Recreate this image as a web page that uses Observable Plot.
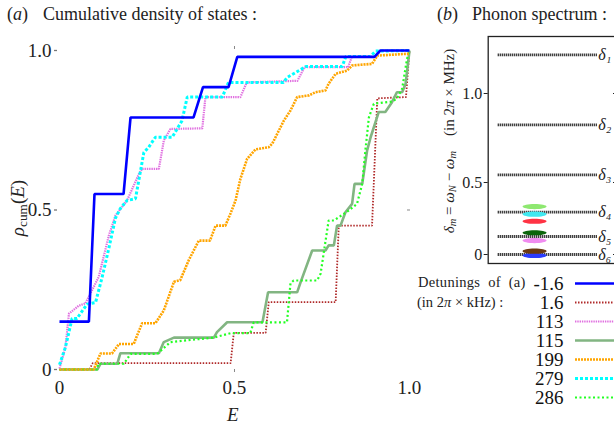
<!DOCTYPE html>
<html><head><meta charset="utf-8">
<script src="https://cdn.jsdelivr.net/npm/d3@7"></script>
<script src="https://cdn.jsdelivr.net/npm/@observablehq/plot@0.6"></script>
<style>
html,body{margin:0;padding:0;background:#fff;overflow:hidden}
#root{position:relative;width:614px;height:425px;overflow:hidden;font-family:"Liberation Serif",serif;color:#222;background:#fff}
.abs{position:absolute;white-space:nowrap;line-height:1}
.rot{transform:translate(-50%,-50%) rotate(-90deg)}
sub{font-size:70%;vertical-align:-0.25em;line-height:0}
svg{position:absolute;overflow:visible}
</style></head><body><div id="root"></div>
<script>
// ---------- data ----------
const detunings = ["-1.6", "1.6", "113", "115", "199", "279", "286"];
// cumulative density of states, [E, rho_cum] for each detuning
const cdos_m1_6 = [[0,0.15],[0.084,0.15],[0.10,0.55],[0.183,0.55],[0.203,0.79],[0.383,0.79],[0.41,0.885],[0.483,0.885],[0.508,0.98],[0.90,0.98],[0.917,1.0],[1.0,1.0]];
const cdos_1_6 = [[0,0],[0.085,0],[0.095,0.02],[0.489,0.02],[0.498,0.115],[0.589,0.115],[0.598,0.211],[0.789,0.211],[0.798,0.451],[0.893,0.451],[0.908,0.85],[0.99,0.854],[1.0,1.0]];
const cdos_113 = [[0,0.003],[0.017,0.07],[0.027,0.175],[0.055,0.2],[0.074,0.207],[0.112,0.29],[0.141,0.42],[0.16,0.483],[0.193,0.53],[0.227,0.613],[0.236,0.629],[0.284,0.629],[0.298,0.718],[0.317,0.754],[0.408,0.756],[0.417,0.854],[0.517,0.854],[0.535,0.9],[0.68,0.905],[0.70,0.948],[0.825,0.948],[0.835,0.98],[0.9,0.98],[0.92,1.0],[1,1]];
const cdos_115 = [[0,0],[0.108,0],[0.117,0.018],[0.165,0.018],[0.174,0.051],[0.284,0.051],[0.298,0.086],[0.327,0.1],[0.441,0.1],[0.45,0.117],[0.479,0.148],[0.58,0.148],[0.596,0.242],[0.679,0.242],[0.689,0.274],[0.722,0.373],[0.76,0.373],[0.769,0.389],[0.784,0.389],[0.793,0.451],[0.803,0.451],[0.817,0.493],[0.836,0.519],[0.843,0.582],[0.865,0.582],[0.879,0.687],[0.889,0.728],[0.912,0.807],[0.931,0.807],[0.95,0.838],[0.964,0.869],[0.979,0.869],[0.989,0.896],[1.0,1.0]];
const cdos_199 = [[0,0],[0.098,0],[0.117,0.05],[0.15,0.05],[0.17,0.08],[0.212,0.08],[0.236,0.145],[0.274,0.145],[0.298,0.185],[0.327,0.275],[0.345,0.28],[0.369,0.342],[0.398,0.404],[0.43,0.404],[0.446,0.451],[0.474,0.451],[0.489,0.49],[0.503,0.53],[0.517,0.598],[0.536,0.66],[0.56,0.69],[0.598,0.697],[0.608,0.708],[0.641,0.78],[0.66,0.812],[0.679,0.854],[0.712,0.859],[0.731,0.869],[0.76,0.875],[0.769,0.896],[0.789,0.927],[0.822,0.937],[0.836,0.953],[0.893,0.958],[0.908,0.984],[1,0.99]];
const cdos_279 = [[0,0.015],[0.017,0.07],[0.036,0.16],[0.05,0.16],[0.079,0.205],[0.103,0.21],[0.122,0.29],[0.141,0.38],[0.16,0.475],[0.174,0.505],[0.193,0.53],[0.217,0.535],[0.241,0.68],[0.255,0.697],[0.274,0.728],[0.322,0.728],[0.35,0.78],[0.365,0.854],[0.465,0.854],[0.483,0.9],[0.64,0.9],[0.65,0.915],[0.704,0.95],[0.808,0.95],[0.818,0.981],[0.888,0.981],[0.903,0.998],[1,1]];
const cdos_286 = [[0,0],[0.108,0],[0.11,0.018],[0.184,0.018],[0.203,0.049],[0.279,0.049],[0.317,0.086],[0.44,0.1],[0.489,0.114],[0.545,0.114],[0.555,0.148],[0.65,0.148],[0.66,0.27],[0.669,0.279],[0.736,0.279],[0.746,0.3],[0.769,0.467],[0.784,0.467],[0.826,0.498],[0.85,0.519],[0.865,0.582],[0.874,0.687],[0.884,0.79],[0.898,0.833],[0.95,0.84],[0.964,0.849],[0.979,0.88],[0.993,0.974],[1,1]];
const cdosTicks = [0, 0.5, 1];
// phonon spectrum (in 2π × MHz)
const phononLevels = [1.217, 0.824, 0.543, 0.294, 0.125, 0];
const phononNames = ["δ₁", "δ₂", "δ₃", "δ₄", "δ₅", "δ₆"];
const phononTicks = [0, 0.5, 1];
// marker positions of the detunings of (a) on the spectrum axis
const markerLevels = [-0.007, 0.023, 0.097, 0.151, 0.231, 0.28, 0.333];

// ---------- styles ----------
const lineBase = {strokeLinecap: "butt", strokeLinejoin: "miter"};
const seriesStyle = {
  "-1.6": {stroke: "#0000ff", strokeWidth: 2.6},
  "1.6": {stroke: "#b02a2a", strokeWidth: 1.8, strokeDasharray: "1.5,1.5"},
  "113": {stroke: "#e070e0", strokeWidth: 2.2, strokeDasharray: "1.4,0.9"},
  "115": {stroke: "#82b582", strokeWidth: 2.6},
  "199": {stroke: "#ffa500", strokeWidth: 2.6, strokeDasharray: "2,1"},
  "279": {stroke: "#00ffff", strokeWidth: 3, strokeDasharray: "3,2"},
  "286": {stroke: "#22ff22", strokeWidth: 2.2, strokeDasharray: "2,2.5"}
};
const markerColor = ["#2a3cff", "#6b3a12", "#f08cf0", "#0b650b", "#ff3344", "#40e8f0", "#8ee870"];
const seriesData = {"-1.6": cdos_m1_6, "1.6": cdos_1_6, "113": cdos_113, "115": cdos_115, "199": cdos_199, "279": cdos_279, "286": cdos_286};
const drawOrder = ["1.6", "115", "286", "199", "113", "279", "-1.6"];
const fmt = d => d === 0 ? "0" : d.toFixed(1);
const font = "Liberation Serif";

const root = document.getElementById("root");
function html(str, css, cls = "abs") {
  const el = document.createElement("div");
  el.className = cls;
  el.innerHTML = str;
  Object.assign(el.style, css);
  root.appendChild(el);
  return el;
}
function place(svg, left, top) {
  svg.style.left = left + "px"; svg.style.top = top + "px";
  root.appendChild(svg);
}

// ---------- panel (a) ----------
const aFrameW = 410 - 57, aFrameH = 372 - 46;
const A = Plot.plot({
  width: 420, height: 425,
  marginLeft: 57, marginRight: 10, marginTop: 46, marginBottom: 53,
  x: {domain: [-0.0057, 1.0029]},
  y: {domain: [-0.0094, 1.0125]},
  style: {fontFamily: font, fontSize: "19px", color: "#222", background: "transparent"},
  marks: [
    Plot.axisX({anchor: "top", ticks: [], tickSize: 0, line: true, stroke: "#bbb", strokeWidth: 2, label: null}),
    Plot.axisY({anchor: "right", ticks: [], tickSize: 0, line: true, stroke: "#888", strokeWidth: 1.5, label: null}),
    Plot.axisY({anchor: "left", ticks: cdosTicks, tickFormat: fmt, tickSize: 3, tickPadding: 3, line: true, stroke: "#777", strokeWidth: 1.3, label: null}),
    Plot.axisX({anchor: "bottom", ticks: cdosTicks, tickFormat: fmt, tickSize: 0, tickPadding: 8, label: null}),
    // inward tick marks
    Plot.ruleX([0.5], {insetBottom: aFrameH - 3, stroke: "#888"}),
    Plot.ruleX([0.5], {insetTop: aFrameH - 3, stroke: "#888"}),
    Plot.ruleY([0.5], {insetLeft: aFrameW - 3, stroke: "#888"}),
    ...drawOrder.map(k => Plot.line(seriesData[k], {x: d => d[0], y: d => d[1], ...lineBase, ...seriesStyle[k]}))
  ]
});
place(A, 0, 0);

// ---------- panel (b) ----------
const ellipse = {draw(ctx) {
  const rx = 12, ry = 2.6, k = 0.5523;
  ctx.moveTo(rx, 0);
  ctx.bezierCurveTo(rx, ry * k, rx * k, ry, 0, ry);
  ctx.bezierCurveTo(-rx * k, ry, -rx, ry * k, -rx, 0);
  ctx.bezierCurveTo(-rx, -ry * k, -rx * k, -ry, 0, -ry);
  ctx.bezierCurveTo(rx * k, -ry, rx, -ry * k, rx, 0);
  ctx.closePath();
}};
const bFrameW = 616 - 487.7;
const B = Plot.plot({
  width: 200, height: 265,
  marginLeft: 67.7, marginRight: 4, marginTop: 36, marginBottom: 2,
  x: {domain: [0, 1], axis: null},
  y: {type: "linear", domain: [0, 0.5, 1], range: [254, 182, 93]},
  color: {type: "identity"},
  style: {fontFamily: font, fontSize: "16px", color: "#222", background: "transparent"},
  marks: [
    Plot.frame({stroke: "#222", strokeWidth: 1.3}),
    Plot.axisY({anchor: "left", ticks: phononTicks, tickFormat: fmt, tickSize: 4, tickPadding: 2, label: null}),
    Plot.ruleY(phononTicks, {insetLeft: bFrameW - 3, stroke: "#222"}),
    Plot.ruleY(phononLevels, {insetLeft: 10, insetRight: 18.3, stroke: "#111", strokeWidth: 2.8, strokeDasharray: "1.1,0.9"}),
    Plot.text(phononLevels, {y: d => d, text: (d, i) => phononNames[i], frameAnchor: "right", dx: -18.3, textAnchor: "start", fontStyle: "italic", fontSize: 16}),
    Plot.dot(markerLevels, {y: d => d, fill: (d, i) => markerColor[i], symbol: ellipse, frameAnchor: "middle", dx: -17.8})
  ]
});
place(B, 420, 0);

// ---------- legend ----------
const L = Plot.plot({
  width: 100, height: 136,
  marginLeft: 0, marginRight: 0, marginTop: 10, marginBottom: 10,
  x: {domain: [0, 1], axis: null},
  y: {type: "point", domain: detunings, padding: 0, axis: null},
  style: {fontFamily: font, fontSize: "19px", color: "#111", background: "transparent"},
  marks: [
    Plot.text(detunings, {y: d => d, text: d => d, frameAnchor: "left", textAnchor: "end", dx: 43, fontSize: 19}),
    ...detunings.map(k => Plot.ruleY([k], {y: d => d, insetLeft: 55, ...lineBase, ...seriesStyle[k]}))
  ]
});
place(L, 520, 272);

// ---------- text ----------
html("(<i>a</i>)", {left: "7px", top: "5px", fontSize: "18px"});
html("Cumulative density of states :", {left: "43px", top: "5px", fontSize: "18px"});
html("(<i>b</i>)", {left: "437px", top: "5px", fontSize: "18px"});
html("Phonon spectrum :", {left: "472px", top: "5px", fontSize: "18px"});
html("<i>ρ</i><sub>cum</sub>(<i>E</i>)", {left: "17px", top: "208px", fontSize: "19px"}, "abs rot");
html("<i>E</i>", {left: "227px", top: "405px", fontSize: "19px"});
html("<i>δ<sub>m</sub></i> = <i>ω<sub>N</sub></i> − <i>ω<sub>m</sub></i>&nbsp;&nbsp;&nbsp;&nbsp;(in 2<i>π</i> × MHz)", {left: "449px", top: "141px", fontSize: "15px"}, "abs rot");
html("Detunings&nbsp; of&nbsp; (a)", {left: "418px", top: "275px", fontSize: "14.5px", letterSpacing: "0.3px"});
html("(in 2<i>π</i> × kHz) :", {left: "417px", top: "295px", fontSize: "14.5px"});
</script>
</body></html>
